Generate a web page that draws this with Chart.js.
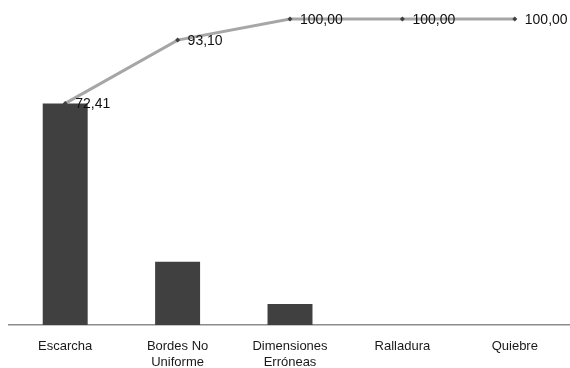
<!DOCTYPE html>
<html>
<head>
<meta charset="utf-8">
<script src="https://cdn.jsdelivr.net/npm/chart.js@4.4.0/dist/chart.umd.min.js"></script>
<style>
  html, body { margin: 0; padding: 0; background: #fff; overflow: hidden; }
  #wrap { width: 575px; height: 368px; }
</style>
</head>
<body>
<div id="wrap"><canvas id="mycanvas" width="575" height="368"></canvas></div>
<script>
// defect categories (Pareto order)
var categories = ['Escarcha', ['Bordes No', 'Uniforme'], ['Dimensiones', 'Erróneas'], 'Ralladura', 'Quiebre'];
// percentage of each defect
var percent = [72.41, 20.69, 6.90, 0, 0];
// cumulative percentage
var cumulative = [72.41, 93.10, 100, 100, 100];

// draws "72,41" style labels to the right of the line points
var pointLabels = {
  id: 'pointLabels',
  afterDatasetsDraw: function(chart) {
    var ctx = chart.ctx;
    var meta = chart.getDatasetMeta(1);
    ctx.save();
    ctx.font = '14px "Liberation Sans", Arial, sans-serif';
    ctx.fillStyle = '#111';
    ctx.textBaseline = 'middle';
    ctx.textAlign = 'left';
    meta.data.forEach(function(pt, i) {
      var txt = cumulative[i].toFixed(2).replace('.', ',');
      ctx.fillText(txt, pt.x + 10, pt.y + 1);
    });
    ctx.restore();
  }
};

var ctx = document.getElementById('mycanvas');

new Chart(ctx, {
  data: {
    labels: categories,
    datasets: [
      {
        type: 'bar',
        label: 'Porcentaje',
        data: percent,
        backgroundColor: '#404040',
        borderWidth: 0,
        barPercentage: 0.8,
        categoryPercentage: 0.5,
        order: 2
      },
      {
        type: 'line',
        label: 'Acumulado',
        data: cumulative,
        borderColor: '#A6A6A6',
        borderWidth: 3,
        tension: 0,
        pointStyle: 'rectRot',
        pointRadius: 2.5,
        pointBackgroundColor: '#404040',
        pointBorderColor: '#404040',
        pointBorderWidth: 0,
        clip: false,
        order: 1
      }
    ]
  },
  options: {
    responsive: false,
    animation: false,
    layout: { padding: { top: 19, left: 9, right: 1, bottom: 0 } },
    scales: {
      x: {
        offset: true,
        grid: { display: false, drawTicks: false },
        border: { display: true, color: '#8C8C8C', width: 1.5 },
        ticks: {
          color: '#1a1a1a',
          font: { family: '"Liberation Sans", Arial, sans-serif', size: 13 },
          padding: 14,
          maxRotation: 0,
          autoSkip: false
        },
        afterFit: function(scale) { scale.height = 43; }
      },
      y: {
        display: false,
        min: 0,
        max: 100
      }
    },
    plugins: {
      legend: { display: false },
      tooltip: { enabled: false }
    }
  },
  plugins: [pointLabels]
});
</script>
</body>
</html>
